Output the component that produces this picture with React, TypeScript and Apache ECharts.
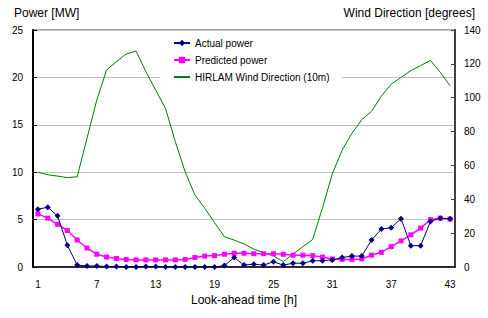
import React, { useEffect, useRef } from "react";
import * as echarts from "echarts";

const hours: string[] = Array.from({ length: 43 }, (_, i) => String(i + 1));

const actualPower: number[] = [
  6.1, 6.3, 5.4, 2.3, 0.2, 0.1, 0.1, 0.05, 0.05, 0, 0, 0.05, 0.05, 0,
  0, 0, 0, 0, 0, 0.15, 1.0, 0.2, 0.3, 0.2, 0.55, 0.2, 0.4, 0.4, 0.65,
  0.67, 0.75, 1.0, 1.15, 1.15, 2.85, 4.0, 4.15, 5.1, 2.25, 2.25, 4.8, 5.15, 5.1,
];

const predictedPower: number[] = [
  5.6, 5.15, 4.5, 3.85, 2.85, 2.0, 1.35, 1.05, 0.9, 0.8, 0.75, 0.75, 0.75, 0.75,
  0.75, 0.8, 1.0, 1.15, 1.2, 1.35, 1.45, 1.45, 1.4, 1.4, 1.4, 1.35, 1.25, 1.25, 1.2,
  1.05, 0.85, 0.8, 0.8, 0.85, 1.25, 1.55, 2.15, 2.75, 3.4, 4.1, 5.0, 5.15, 5.05,
];

const windDirection: number[] = [
  56, 54.5, 53.7, 52.8, 53.3, 76, 98.6, 116.4, 121.3, 125.8, 127.6, 115.4, 104.5, 93.7,
  74, 56.3, 42.5, 34.7, 26.2, 17.9, 15.9, 13.6, 10.6, 8.5, 6.5, 3.2, 7.7, 12, 16.3,
  35, 55, 69, 79, 87, 92, 101, 108, 112, 116, 119, 122, 115, 107,
];

const FONT = "'Liberation Sans', Arial, sans-serif";

export default function App() {
  const ref = useRef<HTMLDivElement>(null);

  useEffect(() => {
    if (!ref.current) return;
    const chart = echarts.init(ref.current, undefined, { renderer: "svg" });
    chart.setOption({
      animation: false,
      backgroundColor: "#ffffff",
      textStyle: { fontFamily: FONT },
      grid: {
        left: 33,
        right: 33,
        top: 30,
        bottom: 51,
        show: true,
        borderColor: "#8a8a8a",
        borderWidth: 1.5,
      },
      legend: {
        orient: "vertical",
        left: 160,
        top: 34,
        padding: [4, 12, 4, 13],
        backgroundColor: "#ffffff",
        itemWidth: 16,
        itemHeight: 8,
        itemGap: 7,
        textStyle: { fontSize: 10, color: "#000", fontFamily: FONT },
        data: [
          "Actual power",
          "Predicted power",
          { name: "HIRLAM Wind Direction (10m)", itemStyle: { color: "transparent", borderWidth: 0 } },
        ],
      },
      graphic: [
        {
          type: "text",
          left: 14,
          top: 7,
          style: { text: "Power [MW]", fill: "#000", font: `12px ${FONT}` },
        },
        {
          type: "text",
          right: 13,
          top: 7,
          style: { text: "Wind Direction [degrees]", fill: "#000", font: `12px ${FONT}` },
        },
      ],
      xAxis: {
        type: "category",
        data: hours,
        boundaryGap: true,
        name: "Look-ahead time [h]",
        nameLocation: "middle",
        nameGap: 22,
        nameTextStyle: { fontSize: 12, color: "#000", fontFamily: FONT },
        axisLine: { lineStyle: { color: "#000", width: 1.5 } },
        axisTick: { inside: true, length: 4, interval: 5, lineStyle: { color: "#000" } },
        axisLabel: { interval: 5, fontSize: 10, color: "#000", margin: 12, fontFamily: FONT },
        splitLine: { show: false },
      },
      yAxis: [
        {
          type: "value",
          min: 0,
          max: 25,
          interval: 5,
          position: "left",
          axisLine: { show: true, lineStyle: { color: "#000", width: 2 } },
          axisTick: { show: true, inside: true, length: 4, lineStyle: { color: "#000" } },
          axisLabel: { fontSize: 10, color: "#000", margin: 10, fontFamily: FONT },
          splitLine: { show: true, lineStyle: { color: "#c0c0c0", width: 1 } },
        },
        {
          type: "value",
          min: 0,
          max: 140,
          interval: 20,
          position: "right",
          axisLine: { show: true, lineStyle: { color: "#404040", width: 2 } },
          axisTick: { show: true, inside: true, length: 4, lineStyle: { color: "#404040" } },
          axisLabel: { fontSize: 10, color: "#000", margin: 9, fontFamily: FONT },
          splitLine: { show: false },
        },
      ],
      series: [
        {
          name: "Actual power",
          type: "line",
          yAxisIndex: 0,
          data: actualPower,
          symbol: "diamond",
          symbolSize: 6,
          lineStyle: { color: "#000080", width: 1 },
          itemStyle: { color: "#000080" },
          z: 4,
        },
        {
          name: "Predicted power",
          type: "line",
          yAxisIndex: 0,
          data: predictedPower,
          symbol: "rect",
          symbolSize: 5,
          lineStyle: { color: "#ff00ff", width: 1.5 },
          itemStyle: { color: "#ff00ff" },
          z: 3,
        },
        {
          name: "HIRLAM Wind Direction (10m)",
          type: "line",
          yAxisIndex: 1,
          data: windDirection,
          symbol: "none",
          showSymbol: false,
          lineStyle: { color: "#008000", width: 1 },
          itemStyle: { color: "#008000" },
          z: 2,
        },
      ],
    });
    return () => chart.dispose();
  }, []);

  return (
    <div
      ref={ref}
      style={{ position: "absolute", left: 0, top: 0, width: 488, height: 318 }}
    />
  );
}
